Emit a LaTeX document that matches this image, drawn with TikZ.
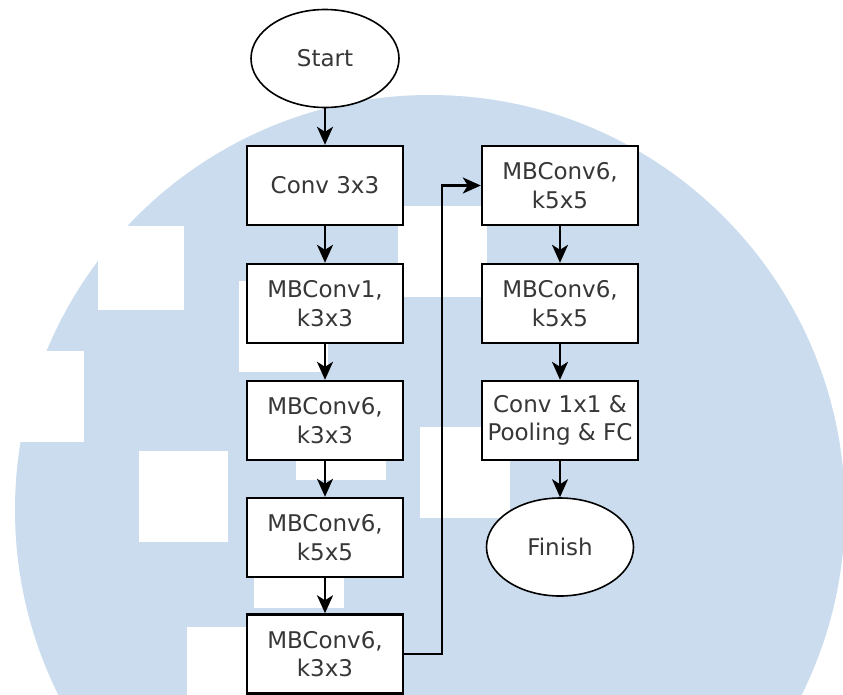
\documentclass[tikz,border=0pt]{standalone}
\usepackage{fontspec}
\setmainfont{DejaVu Sans}
\usetikzlibrary{shapes.geometric,arrows.meta}
\definecolor{wmblue}{RGB}{202,220,238}
\definecolor{txtgray}{RGB}{55,55,55}
\tikzset{
  procbox/.style={draw=black, line width=2.4pt, fill=white, rectangle,
    minimum width=156pt, minimum height=79pt, inner sep=0pt, align=center,
    text=txtgray, font=\fontsize{23}{28.5}\selectfont},
  termnode/.style={draw=black, line width=1.6pt, fill=white, ellipse,
    minimum width=148pt, minimum height=98pt, inner sep=0pt, align=center,
    text=txtgray, font=\fontsize{23}{28.5}\selectfont},
  flow/.style={draw=black, line width=2.4pt,
    -{Stealth[length=18pt, width=16pt, inset=5pt]}},
  wmrect/.style={fill=white, draw=none}
}
\begin{document}
\begin{tikzpicture}[x=1pt, y=-1pt]
\useasboundingbox (0,0) rectangle (843,694);
\clip (0,0) rectangle (843,694);
\fill[white] (0,0) rectangle (843,694);
% watermark background
\fill[wmblue] (430,510) circle[radius=415];
\fill[wmrect] (98,226) rectangle (184,310);
\fill[wmrect] (0,351) rectangle (84,442);
\fill[wmrect] (139,451) rectangle (228,542);
\fill[wmrect] (187,627) rectangle (277,717);
\fill[wmrect] (239,281) rectangle (328,372);
\fill[wmrect] (296,390) rectangle (386,480);
\fill[wmrect] (254,518) rectangle (344,608);
\fill[wmrect] (398,206) rectangle (487,297);
\fill[wmrect] (420,427) rectangle (510,518);
% nodes
\node[termnode] (start) at (325,58.5) {Start};
\node[procbox] (b1) at (325,185.5) {Conv 3x3};
\node[procbox] (b2) at (325,303.5) {MBConv1,\\k3x3};
\node[procbox] (b3) at (325,420.5) {MBConv6,\\k3x3};
\node[procbox] (b4) at (325,537.5) {MBConv6,\\k5x5};
\node[procbox] (b5) at (325,654) {MBConv6,\\k3x3};
\node[procbox] (r1) at (560,185.5) {MBConv6,\\k5x5};
\node[procbox] (r2) at (560,303.5) {MBConv6,\\k5x5};
\node[procbox] (r3) at (560,420.5) {Conv 1x1 \&\\Pooling \& FC};
\node[termnode, minimum width=147pt] (finish) at (560,547) {Finish};
\coordinate (bend) at (442,654);
% connectors
\draw[flow] (start) -- (b1);
\draw[flow] (b1) -- (b2);
\draw[flow] (b2) -- (b3);
\draw[flow] (b3) -- (b4);
\draw[flow] (b4) -- (b5);
\draw[flow] (b5.east) -- (bend) |- (r1.west);
\draw[flow] (r1) -- (r2);
\draw[flow] (r2) -- (r3);
\draw[flow] (r3) -- (finish);
\end{tikzpicture}
\end{document}
